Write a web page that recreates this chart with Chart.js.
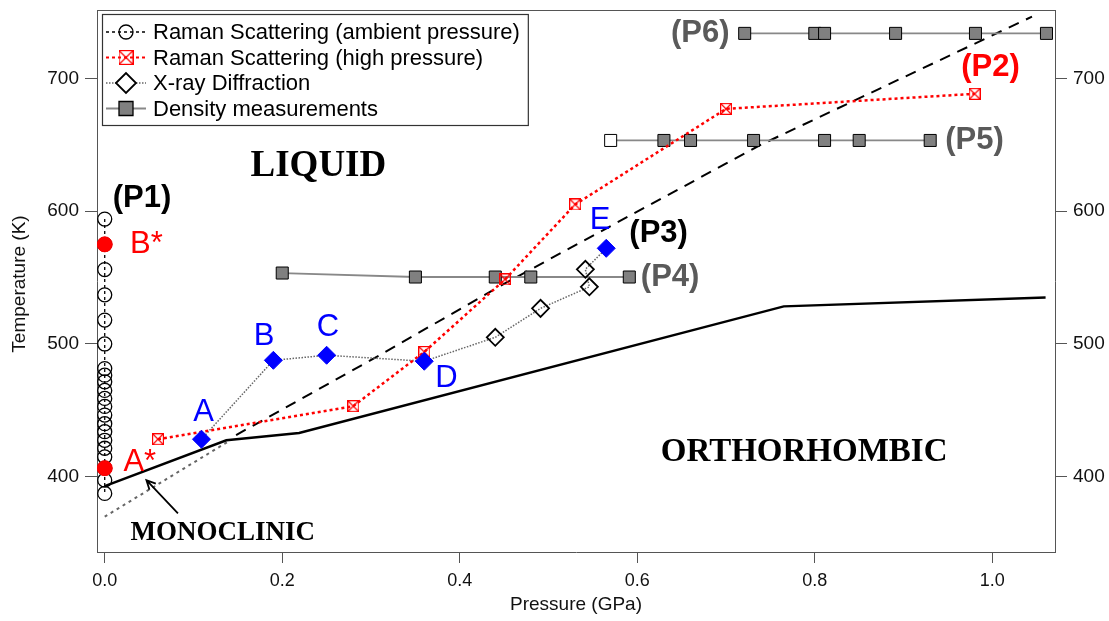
<!DOCTYPE html>
<html>
<head>
<meta charset="utf-8">
<script src="https://cdn.jsdelivr.net/npm/chart.js@4.4.0/dist/chart.umd.min.js"></script>
<style>
  html, body { margin: 0; padding: 0; background: #fff; }
</style>
</head>
<body>
<canvas id="chart" width="1109" height="621"></canvas>
<script>
// ---- data (pressure in GPa, temperature in K) ----

// Raman scattering at ambient pressure (P1), open circles
var ambientP = [0, 0, 0, 0, 0, 0, 0, 0, 0, 0, 0, 0, 0, 0, 0, 0, 0, 0, 0, 0, 0];
var ambientT = [594, 575, 556, 537, 518, 500, 481.5, 476.5, 471.5, 465, 459, 453, 446.5, 440, 434, 427.5, 421.5, 415, 406.5, 397.5, 387.5];

// starred ambient points (A*, B*)
var starP = [0, 0];
var starT = [406.5, 575];

// Raman scattering at high pressure (P2)
var highP = [0.06, 0.28, 0.36, 0.451, 0.53, 0.70, 0.98];
var highT = [428.3, 453.2, 494, 548.6, 605, 677, 688.3];

// X-ray diffraction (P3); A..E are the labelled points
var xrayP = [0.109, 0.19, 0.25, 0.36, 0.44, 0.491, 0.546, 0.5415, 0.565];
var xrayT = [428.3, 487.7, 491.5, 487, 505, 526.8, 543, 556.2, 572];
var xrayLabelled = [true, true, true, true, false, false, false, false, true];

// density measurements (P4, P5, P6)
var p4P = [0.20, 0.35, 0.44, 0.48, 0.591];
var p4T = [553.4, 550.4, 550.4, 550.4, 550.4];
var p5P = [0.57, 0.63, 0.66, 0.731, 0.811, 0.85, 0.93];
var p5T = [653.2, 653.2, 653.2, 653.2, 653.2, 653.2, 653.2];
var p6P = [0.721, 0.80, 0.811, 0.891, 0.981, 1.061];
var p6T = [733.8, 733.8, 733.8, 733.8, 733.8, 733.8];

// phase boundaries
var meltP = [0, 0.137, 0.219, 0.765, 1.06];
var meltT = [393, 427.5, 433, 528.3, 535];
var dashP = [0.148, 0.3096, 0.4503, 0.7374, 1.0447];
var dashT = [431.4, 491.5, 545.4, 649.4, 746.4];
var dotP = [0, 0.1385];
var dotT = [370, 426.3];

// axes
var xTicks = [0, 0.2, 0.4, 0.6, 0.8, 1.0];
var yTicks = [400, 500, 600, 700];
var xRange = [-0.0087, 1.0706];
var yRange = [343.4, 751.4];

function pts(xs, ys) {
  return xs.map(function (x, i) { return { x: x, y: ys[i] }; });
}

// small square with a cross, used for the high pressure Raman points
function boxCross(size, color) {
  var c = document.createElement('canvas');
  c.width = size; c.height = size;
  var g = c.getContext('2d');
  g.strokeStyle = color;
  g.lineWidth = 1.2;
  g.strokeRect(0.6, 0.6, size - 1.2, size - 1.2);
  g.beginPath();
  g.moveTo(1, 1); g.lineTo(size - 1, size - 1);
  g.moveTo(size - 1, 1); g.lineTo(1, size - 1);
  g.stroke();
  return c;
}

var SANS = "'Liberation Sans', Arial, sans-serif";
var SERIF = "'Liberation Serif', 'Times New Roman', serif";

// texts put on the plot, placed in data units
var notes = [
  { text: 'LIQUID', p: 0.2407, t: 633.4, font: 'bold 37px ' + SERIF, color: '#000' },
  { text: 'ORTHORHOMBIC', p: 0.788, t: 418.6, font: 'bold 33px ' + SERIF, color: '#000' },
  { text: 'MONOCLINIC', p: 0.133, t: 357.9, font: 'bold 27px ' + SERIF, color: '#000' },
  { text: '(P1)', p: 0.042, t: 609.3, font: 'bold 31px ' + SANS, color: '#000' },
  { text: '(P2)', p: 0.998, t: 707.8, font: 'bold 31px ' + SANS, color: '#ff0000' },
  { text: '(P3)', p: 0.624, t: 583.2, font: 'bold 31px ' + SANS, color: '#000' },
  { text: '(P4)', p: 0.637, t: 550, font: 'bold 31px ' + SANS, color: '#5a5a5a' },
  { text: '(P5)', p: 0.98, t: 653.2, font: 'bold 31px ' + SANS, color: '#5a5a5a' },
  { text: '(P6)', p: 0.671, t: 733.4, font: 'bold 31px ' + SANS, color: '#5a5a5a' },
  { text: 'A', p: 0.1115, t: 448.6, font: '31px ' + SANS, color: '#0000ff' },
  { text: 'B', p: 0.1796, t: 506, font: '31px ' + SANS, color: '#0000ff' },
  { text: 'C', p: 0.2514, t: 512.3, font: '31px ' + SANS, color: '#0000ff' },
  { text: 'D', p: 0.385, t: 474.2, font: '31px ' + SANS, color: '#0000ff' },
  { text: 'E', p: 0.558, t: 593, font: '31px ' + SANS, color: '#0000ff' },
  { text: 'B*', p: 0.047, t: 575, font: '31px ' + SANS, color: '#ff0000' },
  { text: 'A*', p: 0.0395, t: 410.5, font: '31px ' + SANS, color: '#ff0000' }
];

// arrow pointing at the monoclinic region (tail -> head)
var arrowP = [0.0825, 0.047];
var arrowT = [372.5, 397.5];

var legendItems = [
  { text: 'Raman Scattering (ambient pressure)', color: '#000', dash: [3, 3], width: 1.3, marker: 'circle' },
  { text: 'Raman Scattering (high pressure)', color: '#ff0000', dash: [3, 3], width: 2, marker: 'boxcross' },
  { text: 'X-ray Diffraction', color: '#666', dash: [1.5, 1.5], width: 1.5, marker: 'diamond' },
  { text: 'Density measurements', color: '#888', dash: [], width: 1.8, marker: 'square' }
];

function drawMarker(ctx, kind, x, y) {
  ctx.save();
  ctx.setLineDash([]);
  ctx.strokeStyle = '#000';
  ctx.lineWidth = 1.3;
  ctx.beginPath();
  if (kind === 'circle') {
    ctx.arc(x, y, 7, 0, Math.PI * 2);
    ctx.stroke();
  } else if (kind === 'boxcross') {
    ctx.drawImage(boxCross(15, '#ff0000'), x - 7.5, y - 7.5);
  } else if (kind === 'diamond') {
    ctx.lineWidth = 1.8;
    ctx.moveTo(x - 10, y); ctx.lineTo(x, y - 10); ctx.lineTo(x + 10, y); ctx.lineTo(x, y + 10); ctx.closePath();
    ctx.fillStyle = '#fff'; ctx.fill(); ctx.stroke();
  } else if (kind === 'square') {
    ctx.rect(x - 7, y - 7, 14, 14);
    ctx.fillStyle = '#808080'; ctx.fill(); ctx.stroke();
  }
  ctx.restore();
}

var overlay = {
  id: 'overlay',
  afterDatasetsDraw: function (chart) {
    var ctx = chart.ctx, xs = chart.scales.x, ys = chart.scales.y, a = chart.chartArea;
    ctx.save();

    // top edge of the frame
    ctx.strokeStyle = '#555'; ctx.lineWidth = 1;
    ctx.beginPath(); ctx.moveTo(a.left, a.top + 0.5); ctx.lineTo(a.right, a.top + 0.5); ctx.stroke();

    // arrow
    var x1 = xs.getPixelForValue(arrowP[0]), y1 = ys.getPixelForValue(arrowT[0]);
    var x2 = xs.getPixelForValue(arrowP[1]), y2 = ys.getPixelForValue(arrowT[1]);
    var ang = Math.atan2(y2 - y1, x2 - x1);
    ctx.strokeStyle = '#000'; ctx.lineWidth = 1.8;
    ctx.beginPath();
    ctx.moveTo(x1, y1); ctx.lineTo(x2, y2);
    ctx.moveTo(x2 - 10 * Math.cos(ang - 0.45), y2 - 10 * Math.sin(ang - 0.45));
    ctx.lineTo(x2, y2);
    ctx.lineTo(x2 - 10 * Math.cos(ang + 0.45), y2 - 10 * Math.sin(ang + 0.45));
    ctx.stroke();

    // texts
    ctx.textAlign = 'center'; ctx.textBaseline = 'middle';
    notes.forEach(function (n) {
      ctx.font = n.font; ctx.fillStyle = n.color;
      ctx.fillText(n.text, xs.getPixelForValue(n.p), ys.getPixelForValue(n.t));
    });

    // legend box
    var lx = a.left + 5, ly = a.top + 4, rowH = 25.5;
    ctx.font = '22px ' + SANS;
    var tw = 0;
    legendItems.forEach(function (it) { tw = Math.max(tw, ctx.measureText(it.text).width); });
    var bw = 52 + tw + 7, bh = rowH * 4 + 9;
    ctx.fillStyle = '#fff';
    ctx.fillRect(lx, ly, bw, bh);
    ctx.strokeStyle = '#333'; ctx.lineWidth = 1.2;
    ctx.strokeRect(lx + 0.5, ly + 0.5, bw, bh);
    legendItems.forEach(function (it, i) {
      var cy = ly + 18 + i * rowH;
      ctx.save();
      ctx.strokeStyle = it.color; ctx.lineWidth = it.width; ctx.setLineDash(it.dash);
      ctx.beginPath(); ctx.moveTo(lx + 4, cy); ctx.lineTo(lx + 44, cy); ctx.stroke();
      ctx.restore();
      drawMarker(ctx, it.marker, lx + 24, cy);
      ctx.fillStyle = '#000'; ctx.textAlign = 'left';
      ctx.fillText(it.text, lx + 51, cy + 1);
    });

    // axis titles
    ctx.fillStyle = '#111';
    ctx.font = '19px ' + SANS;
    ctx.textAlign = 'center';
    ctx.fillText('Pressure (GPa)', (a.left + a.right) / 2, 605);
    ctx.translate(20, (a.top + a.bottom) / 2 + 3);
    ctx.rotate(-Math.PI / 2);
    ctx.fillText('Temperature (K)', 0, 0);
    ctx.restore();
  }
};

var xrayRadius = xrayLabelled.map(function (l) { return l ? 0 : 8.5; });
var blueP = xrayP.filter(function (v, i) { return xrayLabelled[i]; });
var blueT = xrayT.filter(function (v, i) { return xrayLabelled[i]; });

var noFill = 'rgba(0,0,0,0)';

var datasets = [
  { data: pts(meltP, meltT), showLine: true, borderColor: '#000', borderWidth: 2.5, pointRadius: 0, order: 9 },
  { data: pts(dotP, dotT), showLine: true, borderColor: '#666', borderWidth: 2, borderDash: [3, 4], pointRadius: 0, order: 9 },
  { data: pts(dashP, dashT), showLine: true, borderColor: '#000', borderWidth: 2, borderDash: [11, 8], pointRadius: 0, order: 8 },
  { data: pts(p4P, p4T), showLine: true, borderColor: '#888', borderWidth: 1.8, pointStyle: 'rect', pointRadius: 8.5,
    pointBackgroundColor: '#808080', pointBorderColor: '#000', pointBorderWidth: 1, order: 5 },
  { data: pts(p5P, p5T), showLine: true, borderColor: '#888', borderWidth: 1.8, pointStyle: 'rect', pointRadius: 8.5,
    pointBackgroundColor: p5P.map(function (v, i) { return i === 0 ? '#fff' : '#808080'; }),
    pointBorderColor: '#000', pointBorderWidth: 1, order: 5 },
  { data: pts(p6P, p6T), showLine: true, borderColor: '#888', borderWidth: 1.8, pointStyle: 'rect', pointRadius: 8.5,
    pointBackgroundColor: '#808080', pointBorderColor: '#000', pointBorderWidth: 1, order: 5 },
  { data: pts(ambientP, ambientT), showLine: true, borderColor: '#000', borderWidth: 1.3, borderDash: [3, 3],
    pointStyle: 'circle', pointRadius: 7, pointBackgroundColor: noFill, pointBorderColor: '#000', pointBorderWidth: 1.3, order: 6 },
  { data: pts(xrayP, xrayT), showLine: true, borderColor: '#666', borderWidth: 1.5, borderDash: [1.5, 1.5],
    pointStyle: 'rectRot', pointRadius: xrayRadius, pointBackgroundColor: noFill, pointBorderColor: '#000', pointBorderWidth: 1.8, order: 4 },
  { data: pts(highP, highT), showLine: true, borderColor: '#ff0000', borderWidth: 2.5, borderDash: [3, 3],
    pointStyle: boxCross(12, '#ff0000'), order: 3 },
  { data: pts(blueP, blueT), showLine: false, pointStyle: 'rectRot', pointRadius: 9, pointBackgroundColor: '#0000ff',
    pointBorderColor: '#0000ff', pointBorderWidth: 1, order: 2 },
  { data: pts(starP, starT), showLine: false, pointStyle: 'circle', pointRadius: 7.5, pointBackgroundColor: '#ff0000',
    pointBorderColor: '#ff0000', pointBorderWidth: 1, order: 1 }
];

function setTicks(list) {
  return function (scale) { scale.ticks = list.map(function (v) { return { value: v }; }); };
}

// drop the label padding Chart.js adds at the axis ends, so the plot box keeps its size
function noEndPadding(s) {
  s.paddingTop = 0; s.paddingBottom = 0; s.paddingLeft = 0; s.paddingRight = 0;
}

var yAxis = function (pos, width) {
  return {
    type: 'linear', position: pos, min: yRange[0], max: yRange[1],
    afterBuildTicks: setTicks(yTicks),
    afterFit: function (s) { s.width = width; noEndPadding(s); },
    grid: { drawOnChartArea: false, tickLength: 12, color: '#555', tickWidth: 1 },
    border: { color: '#555', width: 1 },
    ticks: { padding: 6, color: '#111', font: { family: SANS, size: 19 }, callback: function (v) { return v; } }
  };
};

new Chart(document.getElementById('chart'), {
  type: 'scatter',
  data: { datasets: datasets },
  options: {
    responsive: false,
    animation: false,
    layout: { padding: { top: 9, left: 0, right: 0, bottom: 0 } },
    plugins: { legend: { display: false }, tooltip: { enabled: false } },
    elements: { line: { tension: 0, fill: false } },
    scales: {
      x: {
        type: 'linear', position: 'bottom', min: xRange[0], max: xRange[1],
        afterBuildTicks: setTicks(xTicks),
        afterFit: function (s) { s.height = 69; noEndPadding(s); },
        grid: { drawOnChartArea: false, tickLength: 11, color: '#555', tickWidth: 1 },
        border: { color: '#555', width: 1 },
        ticks: { padding: 7, color: '#111', font: { family: SANS, size: 18 },
          callback: function (v) { return v.toFixed(1); } }
      },
      y: yAxis('left', 97),
      y2: yAxis('right', 54)
    }
  },
  plugins: [overlay]
});
</script>
</body>
</html>
